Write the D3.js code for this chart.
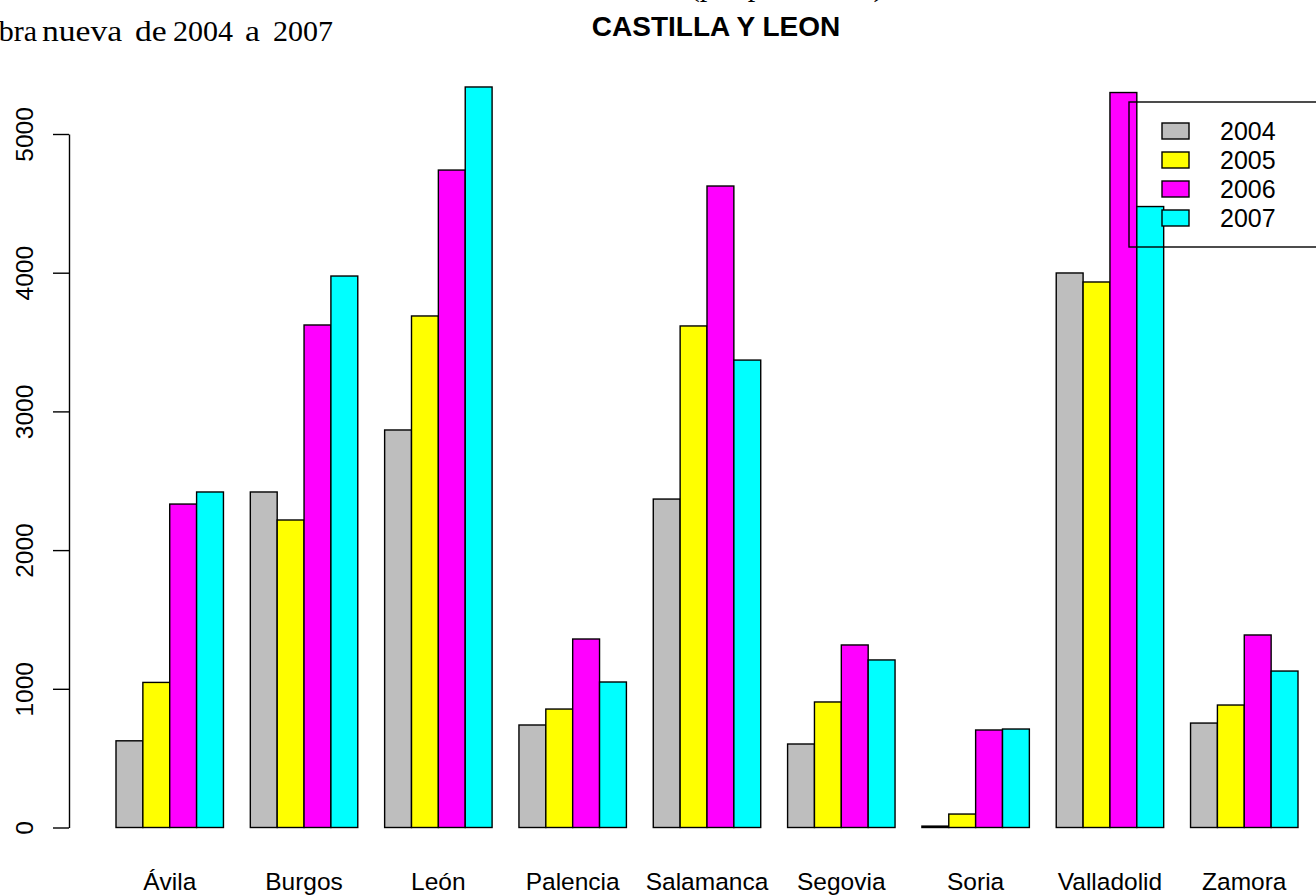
<!DOCTYPE html>
<html>
<head>
	<meta charset="utf-8">
	<title></title>
	<script src="https://cdn.jsdelivr.net/npm/d3@7"></script>
	<style>
		body { margin: 0; background: #fff; }
		text { font-family: "Liberation Sans", Arial, sans-serif; fill: #000; }
		.serif { font-family: "Liberation Serif", "Times New Roman", serif; }
	</style>
</head>
<body>
	<svg id="chart" width="1316" height="896"></svg>

	<script type="text/javascript">
		// datos
		var provincias = ["Ávila", "Burgos", "León", "Palencia", "Salamanca", "Segovia", "Soria", "Valladolid", "Zamora"];
		var anios = ["2004", "2005", "2006", "2007"];
		var colores = ["#bebebe", "#ffff00", "#ff00ff", "#00ffff"];
		var v2004 = [625, 2419, 2866, 739, 2368, 602, 10, 3998, 753];
		var v2005 = [1046, 2217, 3688, 854, 3616, 905, 97, 3933, 883];
		var v2006 = [2332, 3623, 4740, 1359, 4625, 1316, 703, 5299, 1388];
		var v2007 = [2419, 3976, 5339, 1049, 3370, 1208, 710, 4477, 1128];
		var yTicks = [0, 1000, 2000, 3000, 4000, 5000];

		var series = [v2004, v2005, v2006, v2007];

		var svg = d3.select("#chart");

		// eje x en "unidades" de barplot: 4 barras + 1 hueco por grupo
		var x = d3.scaleLinear().domain([1, 45]).range([116, 1298]);
		var y = d3.scaleLinear().domain([0, 5000]).range([827.5, 134]);

		// estira un texto para que los caracteres [a, b] vayan de x0 a x1
		function fitText(sel, a, b, x0, x1) {
			var node = sel.node();
			var s = node.getStartPositionOfChar(a).x;
			var e = node.getEndPositionOfChar(b).x;
			var k = (x1 - x0) / (e - s);
			sel.attr("transform", "translate(" + (x0 - k * s) + ",0) scale(" + k + ",1)");
		}

		// texto del documento, cortado por arriba
		var linea1 = "Gráfico 6: Número de transacciones inmobiliarias (por provincias) de viviendas libres de";
		var t1 = svg.append("text")
			.attr("class", "serif")
			.attr("x", 0)
			.attr("y", -4)
			.attr("font-size", 30)
			.text(linea1);
		fitText(t1, linea1.indexOf("("), linea1.indexOf(")"), 690, 884);

		// segunda linea, palabra a palabra ("obra" queda medio fuera)
		var palabras = ["obra", "nueva", "de", "2004", "a", "2007"];
		var palabrasX = [37, 42, 135, 173, 245, 273];
		svg.append("g")
			.selectAll("text")
			.data(palabras)
			.enter()
			.append("text")
			.attr("class", "serif")
			.attr("transform", function(d, i) {
				var k = (i === 0 || /\d/.test(d)) ? 1 : 1.12;   // las letras de la fuente original son mas anchas
				return "translate(" + palabrasX[i] + ",41) scale(" + k + ",1)";
			})
			.attr("font-size", 30)
			.attr("text-anchor", function(d, i) { return i === 0 ? "end" : "start"; })
			.text(function(d) { return d; });

		svg.append("text")
			.attr("x", 716)
			.attr("y", 36)
			.attr("text-anchor", "middle")
			.attr("font-size", 28)
			.attr("font-weight", "bold")
			.text("CASTILLA Y LEON");

		// barras
		var rows = [];
		provincias.forEach(function(p, g) {
			series.forEach(function(s, i) {
				rows.push({prov: p, g: g, i: i, value: s[g]});
			});
		});

		svg.append("g")
			.selectAll("rect")
			.data(rows)
			.enter()
			.append("rect")
			.attr("x", function(d) { return x(1 + 5 * d.g + d.i); })
			.attr("width", function(d) { return x(2 + 5 * d.g + d.i) - x(1 + 5 * d.g + d.i); })
			.attr("y", function(d) { return y(d.value); })
			.attr("height", function(d) { return y(0) - y(d.value); })
			.attr("fill", function(d) { return colores[d.i]; })
			.attr("stroke", "#000")
			.attr("stroke-width", 1.4);

		// etiquetas de provincia
		svg.append("g")
			.selectAll("text")
			.data(provincias)
			.enter()
			.append("text")
			.attr("x", function(d, g) { return x(3 + 5 * g); })
			.attr("y", 890)
			.attr("text-anchor", "middle")
			.attr("font-size", 24.5)
			.text(function(d) { return d; });

		// eje y
		var yAxis = d3.axisLeft(y)
			.tickValues(yTicks)
			.tickFormat(d3.format("d"))
			.tickSize(16)
			.tickSizeOuter(0);

		var gy = svg.append("g")
			.attr("transform", "translate(69,0)")
			.call(yAxis);

		gy.selectAll("path, line").attr("stroke", "#000").attr("stroke-width", 1.4);
		gy.selectAll("text")
			.attr("x", null)
			.attr("dy", null)
			.attr("font-size", 24.5)
			.attr("font-family", "Liberation Sans, Arial, sans-serif")
			.attr("text-anchor", "middle")
			.attr("transform", "translate(-36.5,0) rotate(-90)");

		// leyenda
		var leg = svg.append("g");
		leg.append("rect")
			.attr("x", 1129)
			.attr("y", 102)
			.attr("width", 260)
			.attr("height", 145)
			.attr("fill", "none")
			.attr("stroke", "#000")
			.attr("stroke-width", 1.4);

		var items = leg.selectAll("g.item")
			.data(anios)
			.enter()
			.append("g")
			.attr("class", "item")
			.attr("transform", function(d, i) { return "translate(0," + (131 + i * 29) + ")"; });

		items.append("rect")
			.attr("x", 1162)
			.attr("y", -8)
			.attr("width", 27)
			.attr("height", 16)
			.attr("fill", function(d, i) { return colores[i]; })
			.attr("stroke", "#000")
			.attr("stroke-width", 1.4);

		items.append("text")
			.attr("x", 1220)
			.attr("y", 9)
			.attr("font-size", 25)
			.text(function(d) { return d; });
	</script>
</body>
</html>
